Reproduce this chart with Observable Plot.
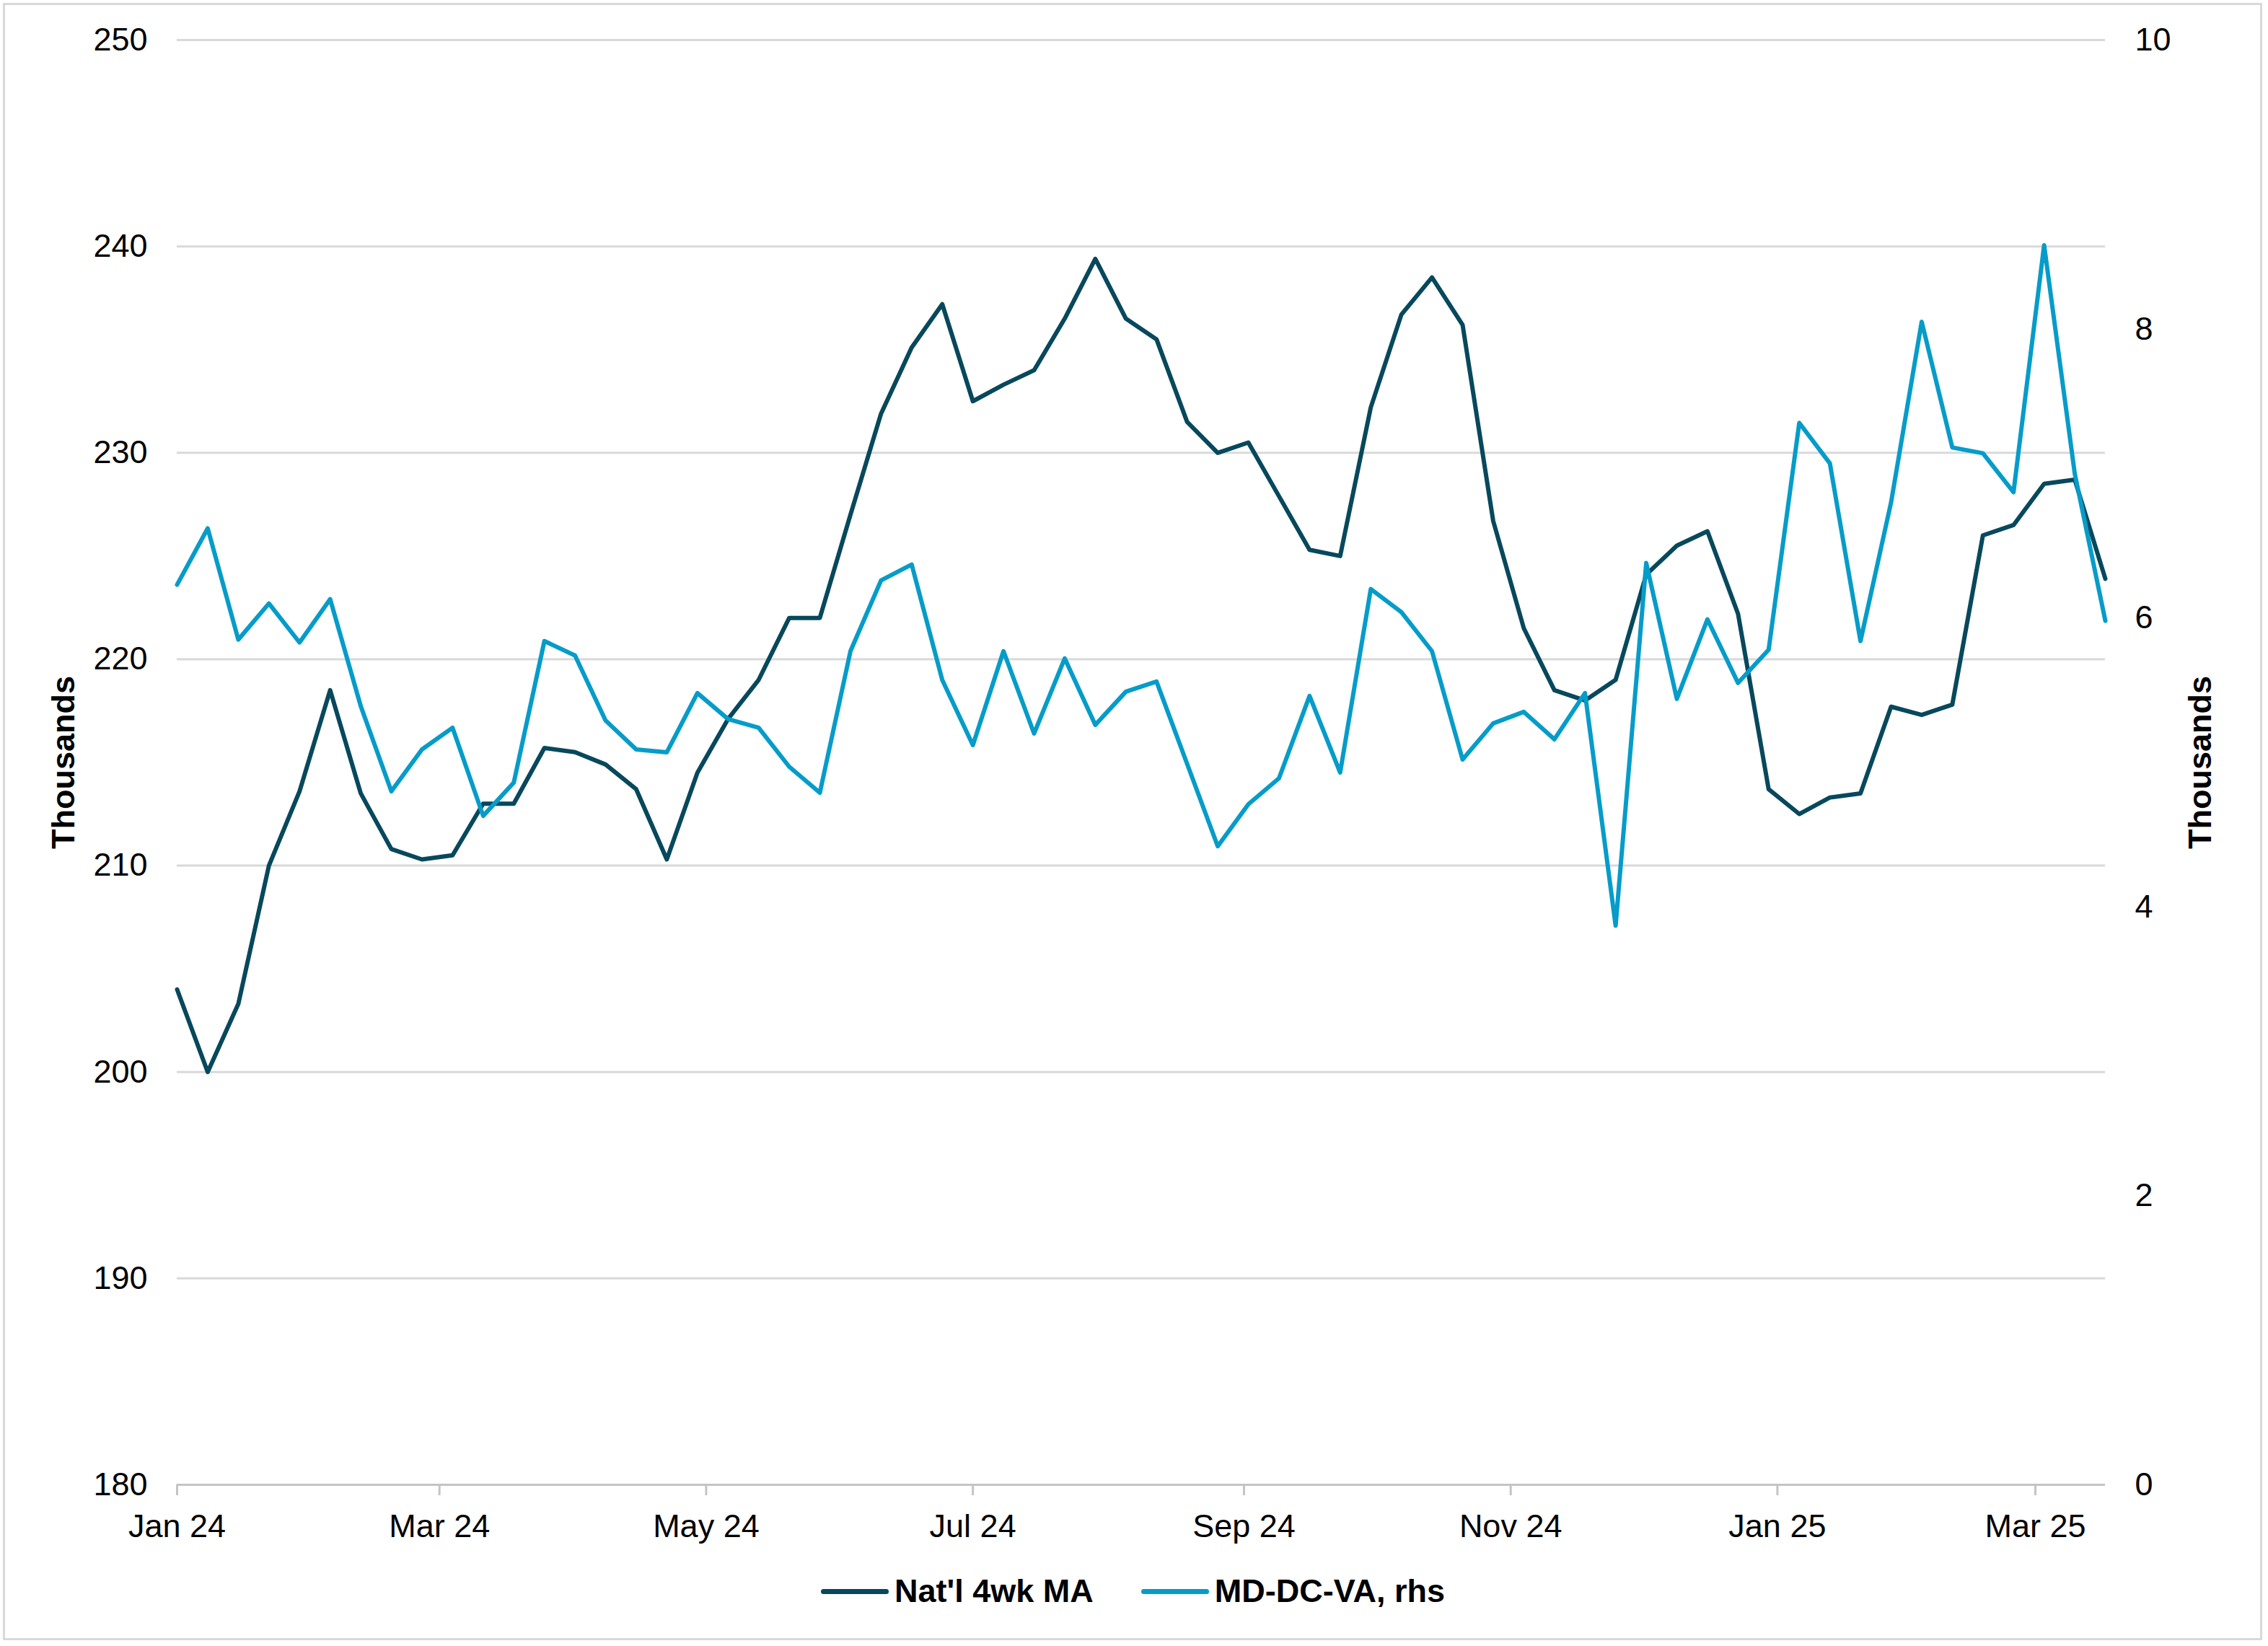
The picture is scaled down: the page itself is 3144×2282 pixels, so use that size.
<!DOCTYPE html>
<html>
<head>
<meta charset="utf-8">
<script src="https://cdn.jsdelivr.net/npm/d3@7"></script>
<script src="https://cdn.jsdelivr.net/npm/@observablehq/plot@0.6"></script>
<style>
  html, body { margin: 0; padding: 0; background: #fff; overflow: hidden; }
  #wrap { position: relative; width: 3144px; height: 2282px; background: #fff; font-family: "Liberation Sans", Arial, sans-serif; }
  #frame { position: absolute; left: 4px; top: 4px; width: 3132px; height: 2270px; box-sizing: border-box; border: 3px solid #d9d9d9; pointer-events: none; }
  #chart { position: absolute; left: 0; top: 0; }
  #legend { position: absolute; left: 1138px; top: 2178px; height: 56px; display: flex; align-items: center; font-weight: bold; font-size: 45px; color: #000; }
  .sw { width: 94px; height: 7px; border-radius: 4px; margin-right: 8px; }
  .item { display: flex; align-items: center; }
</style>
</head>
<body>
<div id="wrap">
  <div id="chart"></div>
  <div id="legend"></div>
  <div id="frame"></div>
</div>
<script>
// Weekly observation dates
const dates = [
  "2024-01-06","2024-01-13","2024-01-20","2024-01-27","2024-02-03","2024-02-10","2024-02-17","2024-02-24",
  "2024-03-02","2024-03-09","2024-03-16","2024-03-23","2024-03-30","2024-04-06","2024-04-13","2024-04-20",
  "2024-04-27","2024-05-04","2024-05-11","2024-05-18","2024-05-25","2024-06-01","2024-06-08","2024-06-15",
  "2024-06-22","2024-06-29","2024-07-06","2024-07-13","2024-07-20","2024-07-27","2024-08-03","2024-08-10",
  "2024-08-17","2024-08-24","2024-08-31","2024-09-07","2024-09-14","2024-09-21","2024-09-28","2024-10-05",
  "2024-10-12","2024-10-19","2024-10-26","2024-11-02","2024-11-09","2024-11-16","2024-11-23","2024-11-30",
  "2024-12-07","2024-12-14","2024-12-21","2024-12-28","2025-01-04","2025-01-11","2025-01-18","2025-01-25",
  "2025-02-01","2025-02-08","2025-02-15","2025-02-22","2025-03-01","2025-03-08","2025-03-15","2025-03-22"
];
// Nat'l 4wk MA (thousands, left axis)
const natl = [
  204.0, 200.0, 203.3, 210.0, 213.6, 218.5, 213.5, 210.8, 210.3, 210.5,
  213.0, 213.0, 215.7, 215.5, 214.9, 213.7, 210.3, 214.5, 217.1, 219.0,
  222.0, 222.0, 227.0, 231.9, 235.1, 237.2, 232.5, 233.3, 234.0, 236.5,
  239.4, 236.5, 235.5, 231.5, 230.0, 230.5, 227.9, 225.3, 225.0, 232.2,
  236.7, 238.5, 236.2, 226.7, 221.5, 218.5, 218.0, 219.0, 224.1, 225.5,
  226.2, 222.2, 213.7, 212.5, 213.3, 213.5, 217.7, 217.3, 217.8, 226.0,
  226.5, 228.5, 228.7, 223.9
];
// MD-DC-VA (thousands, right axis)
const mdDcVa = [
  6.23, 6.62, 5.85, 6.10, 5.83, 6.13, 5.39, 4.80, 5.09, 5.24,
  4.63, 4.86, 5.84, 5.74, 5.29, 5.09, 5.07, 5.48, 5.30, 5.24,
  4.97, 4.79, 5.77, 6.26, 6.37, 5.57, 5.12, 5.77, 5.20, 5.72,
  5.26, 5.49, 5.56, 4.99, 4.42, 4.71, 4.89, 5.46, 4.93, 6.20,
  6.04, 5.77, 5.02, 5.27, 5.35, 5.16, 5.48, 3.87, 6.38, 5.44,
  5.99, 5.55, 5.78, 7.35, 7.07, 5.84, 6.80, 8.05, 7.18, 7.14,
  6.87, 8.58, 7.00, 5.98
];
const leftTicks = [180, 190, 200, 210, 220, 230, 240, 250];
const rightTicks = [0, 2, 4, 6, 8, 10];
const xTickDates = ["2024-01-06","2024-03-06","2024-05-06","2024-07-06","2024-09-06","2024-11-06","2025-01-06","2025-03-06"];
const xTickLabels = ["Jan 24","Mar 24","May 24","Jul 24","Sep 24","Nov 24","Jan 25","Mar 25"];
const seriesNames = ["Nat'l 4wk MA", "MD-DC-VA, rhs"];
const seriesColors = ["#07485c", "#069cc9"];

const parse = s => new Date(s + "T00:00:00Z");
const data = dates.map((d, i) => ({date: parse(d), natl: natl[i], md: mdDcVa[i]}));
const rhs = d3.scaleLinear().domain([0, 10]).range([180, 250]);
const xTicks = xTickDates.map(parse);
const xLabel = new Map(xTicks.map((d, i) => [+d, xTickLabels[i]]));

const chart = Plot.plot({
  width: 3144,
  height: 2160,
  marginLeft: 245,
  marginRight: 226,
  marginTop: 55,
  marginBottom: 102,
  style: {fontFamily: "'Liberation Sans', Arial, sans-serif", fontSize: "45px", color: "#000", background: "transparent", overflow: "visible"},
  x: {type: "utc", domain: [parse(dates[0]), parse(dates[dates.length - 1])]},
  y: {domain: [180, 250]},
  marks: [
    Plot.gridY(leftTicks.filter(t => t > 180), {stroke: "#d9d9d9", strokeOpacity: 1, strokeWidth: 3}),
    Plot.ruleY([180], {stroke: "#c4c4c4", strokeWidth: 3}),
    Plot.axisY(leftTicks, {anchor: "left", tickSize: 0, tickPadding: 41, label: null}),
    Plot.axisY(rightTicks.map(rhs), {anchor: "right", tickSize: 0, tickPadding: 41, label: null,
      tickFormat: d => String(Math.round(rhs.invert(d)))}),
    Plot.axisX(xTicks, {anchor: "bottom", tickSize: 15, tickPadding: 26, stroke: "#c4c4c4", strokeWidth: 3, label: null,
      tickFormat: d => xLabel.get(+d)}),
    Plot.text(["Thousands"], {text: d => d, frameAnchor: "left", textAnchor: "middle", lineAnchor: "middle", dx: -157, rotate: -90, fontWeight: "bold", fontSize: 45}),
    Plot.text(["Thousands"], {text: d => d, frameAnchor: "right", textAnchor: "middle", lineAnchor: "middle", dx: 132, rotate: -90, fontWeight: "bold", fontSize: 45}),
    Plot.line(data, {x: "date", y: "natl", stroke: seriesColors[0], strokeWidth: 6, strokeLinejoin: "round", strokeLinecap: "round"}),
    Plot.line(data, {x: "date", y: d => rhs(d.md), stroke: seriesColors[1], strokeWidth: 6, strokeLinejoin: "round", strokeLinecap: "round"})
  ]
});
document.getElementById("chart").appendChild(chart);

const legend = document.getElementById("legend");
seriesNames.forEach((name, i) => {
  const item = document.createElement("div");
  item.className = "item";
  if (i > 0) item.style.marginLeft = "66px";
  const sw = document.createElement("div");
  sw.className = "sw";
  sw.style.background = seriesColors[i];
  const label = document.createElement("span");
  label.textContent = name;
  item.appendChild(sw);
  item.appendChild(label);
  legend.appendChild(item);
});
</script>
</body>
</html>
